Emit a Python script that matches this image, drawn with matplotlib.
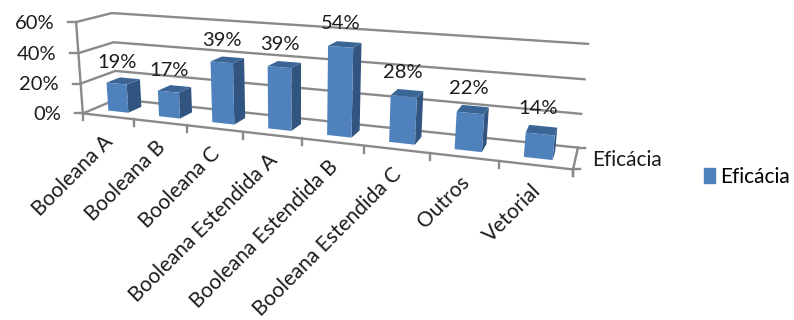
import numpy as np
import matplotlib
matplotlib.use("Agg")
import matplotlib.pyplot as plt
from matplotlib.lines import Line2D
from matplotlib.patches import Patch
from matplotlib.transforms import Affine2D
from mpl_toolkits.mplot3d.art3d import Poly3DCollection

categorias = ["Booleana A", "Booleana B", "Booleana C", "Booleana Estendida A",
              "Booleana Estendida B", "Booleana Estendida C", "Outros", "Vetorial"]
eficacia = [0.19, 0.17, 0.39, 0.39, 0.54, 0.28, 0.22, 0.14]
serie = "Eficácia"
yticks = [0, 0.2, 0.4, 0.6]

W, H = 794, 320
plt.rcParams["font.family"] = ["Lato", "DejaVu Sans"]
plt.rcParams["font.size"] = 14.5
cor_texto = "#1c1c1c"
cor_linha = "#8a8a8a"
n = len(categorias)
zmax = yticks[-1]

# camera: corners of the chart box (x, depth, z) and where they land on the canvas
cantos = [((0, 0, 0), (83, 113)), ((n, 0, 0), (573, 170)),
          ((0, 1, 0), (117, 99.5)), ((n, 1, 0), (578, 147)),
          ((0, 0, zmax), (76, 22)), ((0, 1, zmax), (112, 13)),
          ((n, 1, zmax), (588, 44))]
linhas = []
for (x, y, z), (u, v) in cantos:
    linhas.append([x, y, z, 1, 0, 0, 0, 0, -u*x, -u*y, -u*z, -u])
    linhas.append([0, 0, 0, 0, x, y, z, 1, -v*x, -v*y, -v*z, -v])
P = np.linalg.svd(np.array(linhas, float))[2][-1].reshape(3, 4)
if P[2, 3] < 0:
    P = -P


def proj(x, y, z):
    p = P @ np.array([x, y, z, 1.0])
    return p[0]/p[2], p[1]/p[2]


fig = plt.figure(figsize=(W/100, H/100), dpi=100)
pix = Affine2D().scale(1, -1).translate(0, H)
ax = fig.add_axes([0, 0, 1, 1], projection="3d", computed_zorder=False)
ax.set_axis_off()
ax.set_proj_type("ortho")  # no depth clipping of the lines


def get_proj():
    T = (pix + ax.transData.inverted()).get_matrix()
    Q = T @ P
    return np.array([Q[0], Q[1], [0, 1, 0, 0], Q[2]])


ax.get_proj = get_proj

# walls
for v in yticks:
    ax.plot([0, 0, n], [0, 1, 1], [v, v, v], color=cor_linha, lw=1.7, clip_on=False, zorder=1)
ax.plot([0, 0], [0, 0], [0, zmax], color=cor_linha, lw=1.7, clip_on=False, zorder=1)
ax.plot([0, n], [0, 0], [0, 0], color=cor_linha, lw=1.7, clip_on=False, zorder=1)
ax.plot([n, n], [0, 1], [0, 0], color=cor_linha, lw=1.7, clip_on=False, zorder=1)


def marca(x0, y0, x1, y1):
    fig.add_artist(Line2D([x0, x1], [y0, y1], color=cor_linha, lw=1.7, transform=pix))


# tick marks and labels
for v in yticks:
    u, w = proj(0, 0, v)
    marca(u-8, w, u, w)
    fig.text(u-22, w+1, f"{round(v*100)}%", transform=pix, ha="right", va="center", color=cor_texto)
for i in range(n+1):
    u, w = proj(i, 0, 0)
    marca(u, w, u, w+7)
for i, nome in enumerate(categorias):
    u, w = proj(i+0.5, 0, 0)
    fig.text(u+2, w+22, nome, transform=pix, rotation=45, rotation_mode="anchor",
             ha="right", va="center", color=cor_texto, fontsize=15)

# depth axis
u, w = proj(n, 1, 0)
marca(u, w, u+7, w)
u, w = proj(n, 0, 0)
marca(u, w, u+7, w)
marca(u, w, u, w+7)
fig.text(u+19, w-9, serie, transform=pix, ha="left", va="center", color=cor_texto, fontsize=15)

# bars: only the faces seen from the camera, back to front
largura = 0.2
y0, y1 = 0.3, 0.7
frente, lado, topo = [], [], []
for i, v in enumerate(eficacia):
    a, b = i+0.5-largura, i+0.5+largura
    frente.append([(a, y0, 0), (b, y0, 0), (b, y0, v), (a, y0, v)])
    lado.append([(b, y0, 0), (b, y1, 0), (b, y1, v), (b, y0, v)])
    topo.append([(a, y0, v), (b, y0, v), (b, y1, v), (a, y1, v)])
for faces, cor, zo in [(lado, "#315480", 2), (topo, "#3B6595", 3), (frente, "#4F81BD", 4)]:
    col = Poly3DCollection(faces, facecolors=cor, edgecolors="none", zorder=zo)
    col.set_clip_on(False)
    ax.add_collection3d(col, autolim=False)

for i, v in enumerate(eficacia):
    u, w = proj(i+0.5, 0.5, v+0.13)
    fig.text(u-5, w+1, f"{round(v*100)}%", transform=pix, ha="center", va="center", color=cor_texto)

fig.legend(handles=[Patch(color="#4F81BD", label=serie)], loc="center left",
           bbox_to_anchor=(704/W, 1-177/H), frameon=False, handlelength=0.55,
           handleheight=0.75, handletextpad=0.2, borderpad=0, borderaxespad=0, fontsize=15)

fig.savefig("out.png", dpi=100)
